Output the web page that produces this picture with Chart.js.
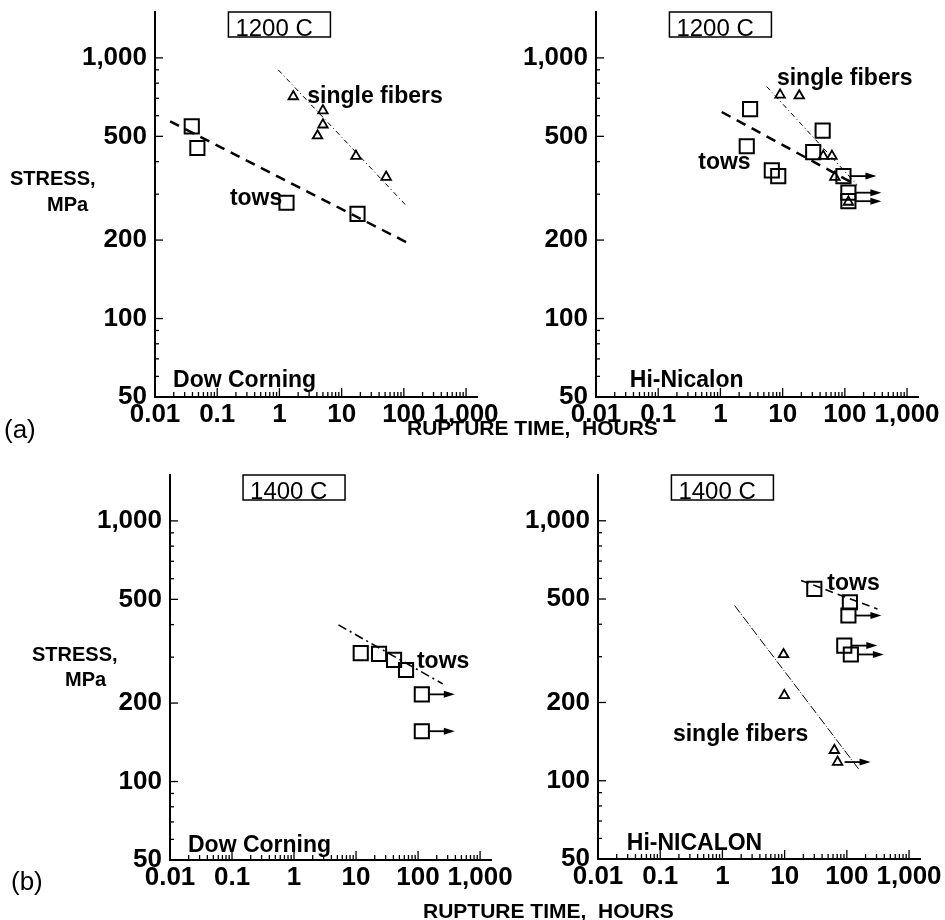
<!DOCTYPE html>
<html>
<head>
<meta charset="utf-8">
<script src="https://cdn.jsdelivr.net/npm/chart.js@4.4.1/dist/chart.umd.min.js"></script>
<style>
  body { margin: 0; background: #fff; }
  #page { position: relative; width: 945px; height: 920px; overflow: hidden; font-family: "Liberation Sans", Arial, Helvetica, sans-serif; color: #000; }
  canvas { position: absolute; }
  .txt { position: absolute; font-weight: bold; white-space: pre; line-height: 1; }
</style>
</head>
<body>
<div id="page">
  <canvas id="c1200dc" width="500" height="460" style="left:0;top:0"></canvas>
  <canvas id="c1200hn" width="465" height="460" style="left:480px;top:0"></canvas>
  <canvas id="c1400dc" width="520" height="460" style="left:0;top:460px"></canvas>
  <canvas id="c1400hn" width="445" height="460" style="left:500px;top:460px"></canvas>

  <div class="txt" style="left:10px;top:168px;font-size:20px">STRESS,</div>
  <div class="txt" style="left:47px;top:194px;font-size:20px">MPa</div>
  <div class="txt" style="left:32px;top:644px;font-size:20px">STRESS,</div>
  <div class="txt" style="left:65px;top:669px;font-size:20px">MPa</div>
  <div class="txt" style="left:407px;top:417px;font-size:21px">RUPTURE TIME,  HOURS</div>
  <div class="txt" style="left:423px;top:900px;font-size:21px">RUPTURE TIME,  HOURS</div>
  <div class="txt" style="left:4px;top:416px;font-size:26px;font-weight:normal">(a)</div>
  <div class="txt" style="left:11px;top:868px;font-size:26px;font-weight:normal">(b)</div>
</div>
<script>
// axis ticks
const xTickValues = [0.01, 0.1, 1, 10, 100, 1000];
const xTickLabels = ['0.01', '0.1', '1', '10', '100', '1,000'];
const yTickValues = [50, 100, 200, 500, 1000];
const yTickLabels = ['50', '100', '200', '500', '1,000'];

// (a) 1200 C, Dow Corning
const dc1200TowsX = [0.039, 0.048, 1.3, 18];
const dc1200TowsY = [546, 451, 278, 252];
const dc1200FiberX = [1.67, 5.0, 5.0, 4.1, 17, 52];
const dc1200FiberY = [711, 628, 554, 503, 420, 349];
const dc1200TowsFitX = [0.0175, 126];
const dc1200TowsFitY = [571, 193];
const dc1200FiberFitX = [0.96, 105];
const dc1200FiberFitY = [899, 274];

// (a) 1200 C, Hi-Nicalon
const hn1200TowsX = [3.0, 2.65, 6.7, 8.5, 44, 31, 95, 114, 114];
const hn1200TowsY = [636, 458, 370, 352, 526, 435, 352, 304, 282];
const hn1200FiberX = [9.1, 18.5, 45, 62, 69, 114];
const hn1200FiberY = [721, 716, 420, 420, 349, 280];
const hn1200RunoutX = [95, 114, 114];
const hn1200RunoutY = [352, 304, 282];
const hn1200TowsFitX = [1.05, 155];
const hn1200TowsFitY = [620, 325];
const hn1200FiberFitX = [5.55, 155];
const hn1200FiberFitY = [776, 327];

// (b) 1400 C, Dow Corning
const dc1400TowsX = [11.9, 23.5, 41, 64, 115, 115];
const dc1400TowsY = [311, 309, 293, 268, 216, 156];
const dc1400RunoutX = [115, 115];
const dc1400RunoutY = [216, 156];
const dc1400TowsFitX = [5.2, 250];
const dc1400TowsFitY = [399, 237];

// (b) 1400 C, Hi-NICALON
const hn1400TowsX = [30, 112, 106, 91, 116];
const hn1400TowsY = [547, 486, 432, 331, 306];
const hn1400FiberX = [9.6, 9.9, 63, 71];
const hn1400FiberY = [306, 213, 131, 118];
const hn1400RunoutX = [106, 91, 116, 71];
const hn1400RunoutY = [432, 331, 306, 118];
const hn1400TowsFitX = [18.4, 310];
const hn1400TowsFitY = [589, 458];
const hn1400FiberFitX = [1.57, 159];
const hn1400FiberFitY = [472, 110];

const FONT = '"Liberation Sans", Arial, Helvetica, sans-serif';

function pts(xs, ys) {
    return xs.map((x, i) => ({ x: x, y: ys[i] }));
}

function towsSet(xs, ys) {
    return { data: pts(xs, ys), pointStyle: 'rect', pointRadius: 10, borderColor: '#000', borderWidth: 2, backgroundColor: 'rgba(0,0,0,0)', showLine: false };
}

function fiberSet(xs, ys) {
    return { data: pts(xs, ys), pointStyle: 'triangle', pointRadius: 5.5, borderColor: '#000', borderWidth: 1.8, backgroundColor: 'rgba(0,0,0,0)', showLine: false };
}

function fitSet(xs, ys, dash, width) {
    return { data: pts(xs, ys), showLine: true, pointRadius: 0, borderColor: '#000', borderWidth: width, borderDash: dash, fill: false };
}

// draws inward tick marks, title box, notes and runout arrows
const decorPlugin = {
    id: 'decor',
    afterDatasetsDraw(chart) {
        const ctx = chart.ctx;
        const xs = chart.scales.x, ys = chart.scales.y;
        const area = chart.chartArea;
        const cfg = chart.options.plugins.decor;
        ctx.save();
        ctx.strokeStyle = '#000';
        ctx.fillStyle = '#000';

        // x ticks, pointing up
        ctx.lineWidth = 1.3;
        for (let e = -2; e <= 3; e++) {
            for (let k = 1; k <= 9; k++) {
                const v = k * Math.pow(10, e);
                if (v > xs.max) break;
                const px = xs.getPixelForValue(v);
                const len = k === 1 ? 9 : 5;
                ctx.beginPath();
                ctx.moveTo(px, area.bottom);
                ctx.lineTo(px, area.bottom - len);
                ctx.stroke();
            }
        }
        // y ticks, pointing right
        for (let e = 1; e <= 3; e++) {
            for (let k = 1; k <= 9; k++) {
                const v = k * Math.pow(10, e);
                if (v < ys.min || v > ys.max) continue;
                const py = ys.getPixelForValue(v);
                const len = yTickValues.includes(v) ? 8 : 4;
                ctx.beginPath();
                ctx.moveTo(area.left, py);
                ctx.lineTo(area.left + len, py);
                ctx.stroke();
            }
        }

        // title box
        const bx = xs.getPixelForValue(1) - 51;
        const by = area.top;
        ctx.lineWidth = 1.5;
        ctx.strokeRect(bx, by, 102, 25);
        ctx.font = '24px ' + FONT;
        ctx.textAlign = 'left';
        ctx.textBaseline = 'alphabetic';
        ctx.fillText(cfg.title, bx + 7, by + 24);

        // notes
        ctx.font = 'bold 23px ' + FONT;
        ctx.textBaseline = 'middle';
        cfg.notes.forEach(n => {
            ctx.fillText(n.text, xs.getPixelForValue(n.x), ys.getPixelForValue(n.y));
        });

        // runout arrows
        ctx.lineWidth = 1.8;
        cfg.runX.forEach((v, i) => {
            const px = xs.getPixelForValue(v) + 7;
            const py = ys.getPixelForValue(cfg.runY[i]);
            ctx.beginPath();
            ctx.moveTo(px, py);
            ctx.lineTo(px + 18, py);
            ctx.stroke();
            ctx.beginPath();
            ctx.moveTo(px + 26, py);
            ctx.lineTo(px + 15, py - 3.5);
            ctx.lineTo(px + 15, py + 3.5);
            ctx.closePath();
            ctx.fill();
        });
        ctx.restore();
    }
};

function makePanel(id, opt) {
    return new Chart(document.getElementById(id), {
        type: 'scatter',
        data: { datasets: opt.datasets },
        options: {
            responsive: false,
            animation: false,
            layout: { padding: opt.padding },
            plugins: {
                legend: { display: false },
                tooltip: { enabled: false },
                decor: { title: opt.title, notes: opt.notes, runX: opt.runX, runY: opt.runY }
            },
            scales: {
                x: {
                    type: 'logarithmic',
                    min: 0.01,
                    max: 1500,
                    grid: { display: false, drawTicks: false },
                    border: { display: true, color: '#000', width: 2 },
                    afterBuildTicks: s => { s.ticks = xTickValues.map(v => ({ value: v })); },
                    afterFit: s => { s.height = opt.xHeight; s.paddingLeft = 0; s.paddingRight = 0; },
                    ticks: {
                        autoSkip: false,
                        maxRotation: 0,
                        padding: 2,
                        color: '#000',
                        font: { family: FONT, size: 26, weight: 'bold' },
                        callback: (v, i) => xTickLabels[i]
                    }
                },
                y: {
                    type: 'logarithmic',
                    min: 50,
                    max: 1500,
                    grid: { display: false, drawTicks: false },
                    border: { display: true, color: '#000', width: 2 },
                    afterBuildTicks: s => { s.ticks = yTickValues.map(v => ({ value: v })); },
                    afterFit: s => { s.width = opt.yWidth; s.paddingTop = 0; s.paddingBottom = 0; },
                    ticks: {
                        autoSkip: false,
                        padding: 8,
                        color: '#000',
                        font: { family: FONT, size: 26, weight: 'bold' },
                        callback: (v, i) => yTickLabels[i]
                    }
                }
            }
        },
        plugins: [decorPlugin]
    });
}

makePanel('c1200dc', {
    padding: { left: 0, top: 10, right: 23, bottom: 0 },
    yWidth: 155, xHeight: 63,
    title: '1200 C',
    datasets: [
        towsSet(dc1200TowsX, dc1200TowsY),
        fiberSet(dc1200FiberX, dc1200FiberY),
        fitSet(dc1200TowsFitX, dc1200TowsFitY, [10, 7], 2.5),
        fitSet(dc1200FiberFitX, dc1200FiberFitY, [5, 3, 1, 3], 1)
    ],
    notes: [
        { text: 'single fibers', x: 2.8, y: 711 },
        { text: 'tows', x: 0.16, y: 288 },
        { text: 'Dow Corning', x: 0.0195, y: 58 }
    ],
    runX: [], runY: []
});

makePanel('c1200hn', {
    padding: { left: 0, top: 10, right: 27, bottom: 0 },
    yWidth: 116, xHeight: 63,
    title: '1200 C',
    datasets: [
        towsSet(hn1200TowsX, hn1200TowsY),
        fiberSet(hn1200FiberX, hn1200FiberY),
        fitSet(hn1200TowsFitX, hn1200TowsFitY, [10, 7], 2.5),
        fitSet(hn1200FiberFitX, hn1200FiberFitY, [5, 3, 1, 3], 1)
    ],
    notes: [
        { text: 'single fibers', x: 8.1, y: 832 },
        { text: 'tows', x: 0.44, y: 398 },
        { text: 'Hi-Nicalon', x: 0.035, y: 58 }
    ],
    runX: hn1200RunoutX, runY: hn1200RunoutY
});

makePanel('c1400dc', {
    padding: { left: 0, top: 15, right: 29, bottom: 0 },
    yWidth: 170, xHeight: 60,
    title: '1400 C',
    datasets: [
        towsSet(dc1400TowsX, dc1400TowsY),
        fitSet(dc1400TowsFitX, dc1400TowsFitY, [9, 4, 2, 4], 1.6)
    ],
    notes: [
        { text: 'tows', x: 96, y: 288 },
        { text: 'Dow Corning', x: 0.0195, y: 57 }
    ],
    runX: dc1400RunoutX, runY: dc1400RunoutY
});

makePanel('c1400hn', {
    padding: { left: 0, top: 15, right: 25, bottom: 0 },
    yWidth: 98, xHeight: 61,
    title: '1400 C',
    datasets: [
        towsSet(hn1400TowsX, hn1400TowsY),
        fiberSet(hn1400FiberX, hn1400FiberY),
        fitSet(hn1400TowsFitX, hn1400TowsFitY, [8, 5], 1.6),
        fitSet(hn1400FiberFitX, hn1400FiberFitY, [9, 2, 1, 2], 1)
    ],
    notes: [
        { text: 'tows', x: 48.5, y: 573 },
        { text: 'single fibers', x: 0.16, y: 150 },
        { text: 'Hi-NICALON', x: 0.029, y: 57.5 }
    ],
    runX: hn1400RunoutX, runY: hn1400RunoutY
});
</script>
</body>
</html>
